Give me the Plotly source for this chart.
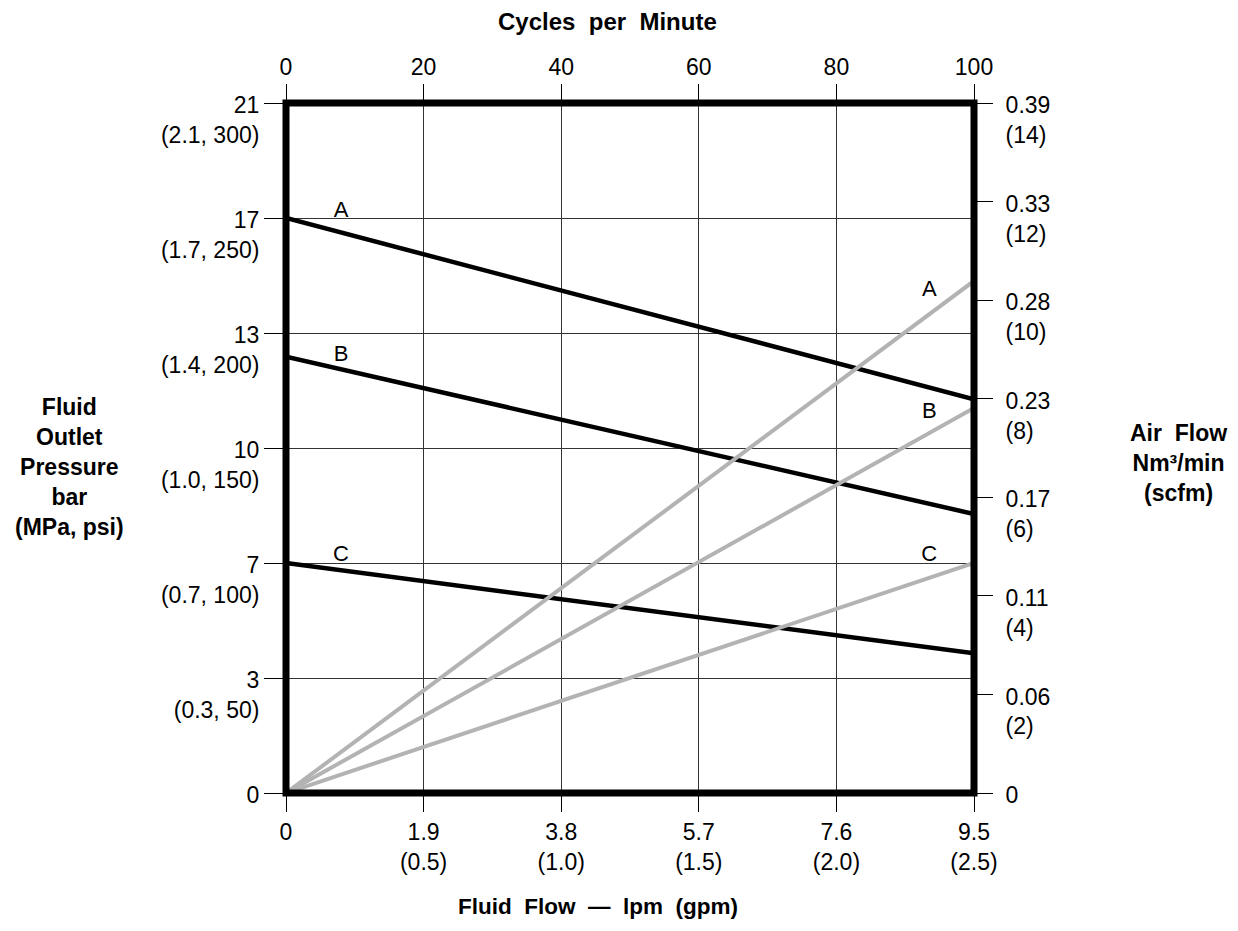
import plotly.graph_objects as go

# bottom axis: fluid flow lpm (gpm)
flow_lpm = [0, 9.5]
flow_ticks = [0, 1.9, 3.8, 5.7, 7.6, 9.5]
flow_text = ["0", "1.9<br>(0.5)", "3.8<br>(1.0)", "5.7<br>(1.5)", "7.6<br>(2.0)", "9.5<br>(2.5)"]

# top axis: cycles per minute
cycles = [0, 100]
cycle_ticks = [0, 20, 40, 60, 80, 100]

# left axis: fluid outlet pressure (psi scale underneath)
psi_ticks = [0, 50, 100, 150, 200, 250, 300]
psi_text = ["0<br>\u00a0", "3<br>(0.3, 50)", "7<br>(0.7, 100)", "10<br>(1.0, 150)",
            "13<br>(1.4, 200)", "17<br>(1.7, 250)", "21<br>(2.1, 300)"]

# right axis: air flow (scfm scale underneath)
scfm_ticks = [0, 2, 4, 6, 8, 10, 12, 14]
scfm_text = ["0<br>\u00a0", "0.06<br>(2)", "0.11<br>(4)", "0.17<br>(6)", "0.23<br>(8)",
             "0.28<br>(10)", "0.33<br>(12)", "0.39<br>(14)"]

# curves: value at zero flow and at full flow
curve_names = ["A", "B", "C"]
pressure_psi = {"A": [250, 171.2], "B": [189.7, 121.3], "C": [100, 60.7]}
air_scfm = {"A": [0, 10.39], "B": [0, 7.81], "C": [0, 4.67]}

# curve letter labels
label_left_lpm = [0.76, 0.76, 0.76]
label_left_psi = [253, 190.4, 103.3]
label_right_cpm = [93.5, 93.5, 93.5]
label_right_scfm = [10.19, 7.73, 4.81]

FONT = "Liberation Sans, Arial, sans-serif"

fig = go.Figure()

# grey air flow lines
for n in curve_names:
    fig.add_trace(go.Scatter(x=cycles, y=air_scfm[n], xaxis="x2", yaxis="y2",
                             mode="lines", line=dict(color="#b3b3b3", width=4),
                             showlegend=False, hoverinfo="skip"))

# black pressure lines
for n in curve_names:
    fig.add_trace(go.Scatter(x=flow_lpm, y=pressure_psi[n], xaxis="x", yaxis="y",
                             mode="lines", line=dict(color="black", width=4.5),
                             showlegend=False, hoverinfo="skip"))

fig.add_trace(go.Scatter(x=label_left_lpm, y=label_left_psi, xaxis="x", yaxis="y",
                         mode="text", text=curve_names,
                         textfont=dict(size=22, color="black", family=FONT),
                         showlegend=False, hoverinfo="skip"))
fig.add_trace(go.Scatter(x=label_right_cpm, y=label_right_scfm, xaxis="x2", yaxis="y2",
                         mode="text", text=curve_names,
                         textfont=dict(size=22, color="black", family=FONT),
                         showlegend=False, hoverinfo="skip"))

tickfont = dict(size=23, color="black", family=FONT)

fig.update_layout(
    width=1222, height=915,
    margin=dict(l=278, r=256, t=95, b=130),
    paper_bgcolor="white", plot_bgcolor="white",
    font=dict(family=FONT, color="black"),
    xaxis=dict(range=[0, 9.5], tickvals=flow_ticks, ticktext=flow_text,
               ticks="outside", ticklen=18, tickcolor="black", tickwidth=1,
               tickfont=tickfont, showgrid=True, gridcolor="#333", gridwidth=1,
               zeroline=False, showline=False),
    xaxis2=dict(range=[0, 100], overlaying="x", side="top", anchor="y2",
                tickvals=cycle_ticks,
                ticks="outside", ticklen=18, tickcolor="black", tickwidth=1,
                tickfont=tickfont, showgrid=False, zeroline=False, showline=False),
    yaxis=dict(range=[0, 300], tickvals=psi_ticks, ticktext=psi_text,
               ticks="outside", ticklen=21, tickcolor="black", tickwidth=1,
               tickfont=tickfont, ticklabelshift=17,
               showgrid=True, gridcolor="#333", gridwidth=1,
               zeroline=False, showline=False),
    yaxis2=dict(range=[0, 14], overlaying="y", side="right", anchor="x2",
                tickvals=scfm_ticks,
                ticktext=scfm_text, ticks="outside", ticklen=18, tickcolor="black",
                tickwidth=1, tickfont=tickfont, ticklabelshift=17, ticklabelstandoff=8,
                showgrid=False, zeroline=False, showline=False),
    shapes=[dict(type="rect", xref="paper", yref="paper", x0=0, x1=1, y0=0, y1=1,
                 line=dict(color="black", width=7), layer="above")],
    annotations=[
        dict(text="<b>Cycles  per  Minute</b>", xref="paper", yref="paper",
             x=(607 - 286) / 688, y=1, yshift=82, showarrow=False,
             font=dict(size=24, family=FONT), xanchor="center", yanchor="middle"),
        dict(text="<b>Fluid  Flow  —  lpm  (gpm)</b>", xref="paper", yref="paper",
             x=(598 - 286) / 688, y=0, yshift=-113, showarrow=False,
             font=dict(size=22.5, family=FONT), xanchor="center", yanchor="middle"),
        dict(text="<b>Fluid<br>Outlet<br>Pressure<br>bar<br>(MPa, psi)</b>",
             xref="paper", yref="paper", x=0, xshift=-217, y=(793 - 467) / 690,
             showarrow=False, font=dict(size=23, family=FONT),
             xanchor="center", yanchor="middle", align="center"),
        dict(text="<b>Air  Flow<br>Nm³/min<br>(scfm)</b>",
             xref="paper", yref="paper", x=1, xshift=204, y=(793 - 463) / 690,
             showarrow=False, font=dict(size=23, family=FONT),
             xanchor="center", yanchor="middle", align="center"),
    ],
)

fig.write_html("out.html")
